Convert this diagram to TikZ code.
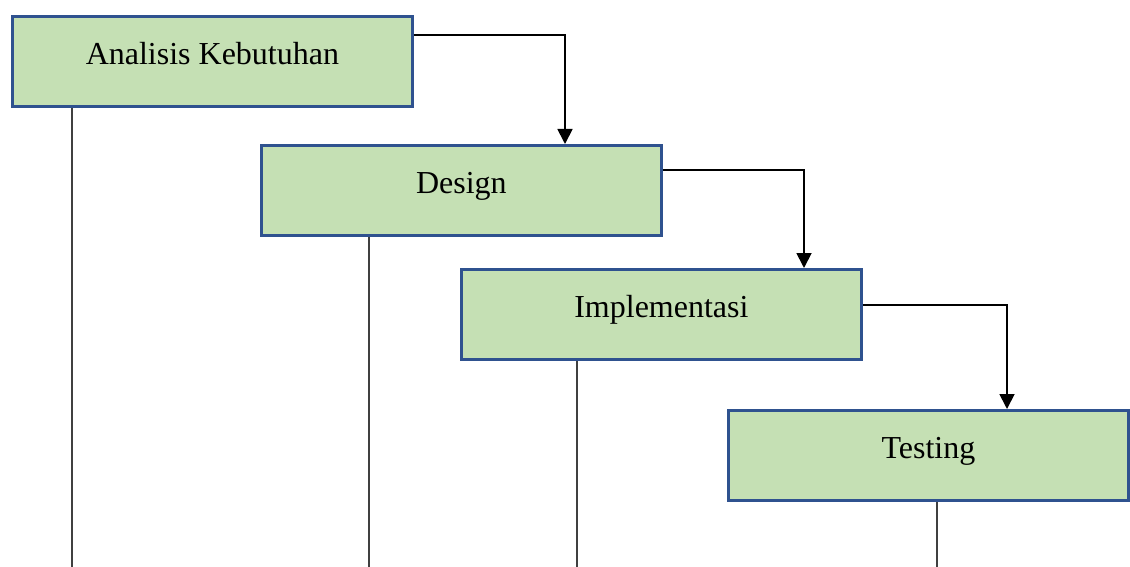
\documentclass[tikz,border=0pt]{standalone}
\usepackage{fontspec}
\setmainfont{Liberation Serif}
\usetikzlibrary{arrows.meta}
\definecolor{boxfill}{HTML}{C5E0B4}
\definecolor{boxline}{HTML}{2F528F}
\definecolor{stemline}{HTML}{404040}
\tikzset{
  phase/.style={draw=boxline, line width=2.8pt, fill=boxfill, rectangle, anchor=north west,
    minimum width=400pt, minimum height=90pt, inner sep=0pt,
    text height=48pt, text depth=42pt, font=\fontsize{32}{38}\selectfont},
  flow/.style={draw=black, line width=1.8pt, -{Triangle[width=15pt,length=15pt]}},
  stem/.style={draw=stemline, line width=1.3pt}
}
\begin{document}
\begin{tikzpicture}[x=1pt, y=-1pt]
    \useasboundingbox (0,0) rectangle (1130,567);
    \coordinate (bottom) at (0,567);

    \node[phase] (analisis) at (11,15) {Analisis Kebutuhan};
    \node[phase] (design) at (260,144) {Design};
    \node[phase] (impl) at (460,268) {Implementasi};
    \node[phase] (testing) at (727,409) {Testing};

    \draw[flow] ([yshift=-20pt]analisis.north east) -| ([xshift=305pt]design.north west);
    \draw[flow] ([yshift=-26pt]design.north east) -| ([xshift=344pt]impl.north west);
    \draw[flow] ([yshift=-37pt]impl.north east) -| ([xshift=280pt]testing.north west);

    \draw[stem] ([xshift=61pt]analisis.south west) -- ([xshift=61pt]analisis.south west |- bottom);
    \draw[stem] ([xshift=109pt]design.south west) -- ([xshift=109pt]design.south west |- bottom);
    \draw[stem] ([xshift=117pt]impl.south west) -- ([xshift=117pt]impl.south west |- bottom);
    \draw[stem] ([xshift=210pt]testing.south west) -- ([xshift=210pt]testing.south west |- bottom);
\end{tikzpicture}
\end{document}
